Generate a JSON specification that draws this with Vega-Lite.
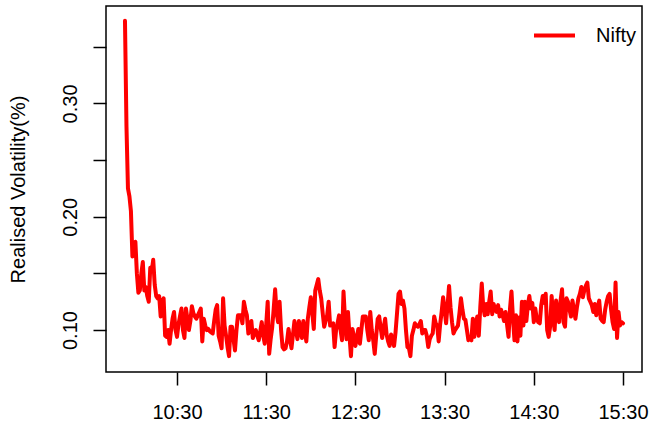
{
 "$schema": "https://vega.github.io/schema/vega-lite/v6.json",
 "width": 536, "height": 366,
 "autosize": {"type": "none"},
 "padding": {"left": 106, "top": 6, "right": 11, "bottom": 49},
 "background": "white",
 "config": {"view": {"stroke": "black", "strokeWidth": 1.5}, "font": "Liberation Sans"},
 "data": {"format": {"parse": {"t": "date:'%H:%M'"}}, "values": [
{"t":"09:55","v":0.373},{"t":"09:56","v":0.28},{"t":"09:57","v":0.225},{"t":"09:58","v":0.218},{"t":"09:59","v":0.205},
{"t":"10:00","v":0.165},{"t":"10:01","v":0.172},{"t":"10:02","v":0.178},{"t":"10:03","v":0.150},{"t":"10:04","v":0.133},{"t":"10:05","v":0.135},{"t":"10:06","v":0.150},{"t":"10:07","v":0.160},{"t":"10:08","v":0.135},{"t":"10:09","v":0.138},
{"t":"10:10","v":0.130},{"t":"10:11","v":0.125},{"t":"10:12","v":0.155},{"t":"10:13","v":0.152},{"t":"10:14","v":0.162},{"t":"10:15","v":0.140},{"t":"10:16","v":0.130},{"t":"10:17","v":0.128},{"t":"10:18","v":0.130},{"t":"10:19","v":0.112},
{"t":"10:20","v":0.125},{"t":"10:21","v":0.128},{"t":"10:22","v":0.095},{"t":"10:23","v":0.094},{"t":"10:24","v":0.100},{"t":"10:25","v":0.088},{"t":"10:26","v":0.100},{"t":"10:27","v":0.110},{"t":"10:28","v":0.116},{"t":"10:29","v":0.100},
{"t":"10:30","v":0.094},{"t":"10:31","v":0.105},{"t":"10:32","v":0.112},{"t":"10:33","v":0.119},{"t":"10:34","v":0.100},{"t":"10:35","v":0.093},{"t":"10:36","v":0.119},{"t":"10:37","v":0.110},{"t":"10:38","v":0.100},{"t":"10:39","v":0.108},
{"t":"10:40","v":0.121},{"t":"10:41","v":0.115},{"t":"10:42","v":0.112},{"t":"10:43","v":0.110},{"t":"10:44","v":0.113},{"t":"10:45","v":0.116},{"t":"10:46","v":0.119},{"t":"10:47","v":0.090},{"t":"10:48","v":0.110},{"t":"10:49","v":0.104},
{"t":"10:50","v":0.100},{"t":"10:51","v":0.101},{"t":"10:52","v":0.099},{"t":"10:53","v":0.098},{"t":"10:54","v":0.097},{"t":"10:55","v":0.108},{"t":"10:56","v":0.118},{"t":"10:57","v":0.122},{"t":"10:58","v":0.095},{"t":"10:59","v":0.090},
{"t":"11:00","v":0.084},{"t":"11:01","v":0.128},{"t":"11:02","v":0.104},{"t":"11:03","v":0.095},{"t":"11:04","v":0.085},{"t":"11:05","v":0.077},{"t":"11:06","v":0.103},{"t":"11:07","v":0.103},{"t":"11:08","v":0.092},{"t":"11:09","v":0.082},
{"t":"11:10","v":0.100},{"t":"11:11","v":0.113},{"t":"11:12","v":0.113},{"t":"11:13","v":0.113},{"t":"11:14","v":0.106},{"t":"11:15","v":0.125},{"t":"11:16","v":0.118},{"t":"11:17","v":0.113},{"t":"11:18","v":0.097},{"t":"11:19","v":0.103},
{"t":"11:20","v":0.108},{"t":"11:21","v":0.093},{"t":"11:22","v":0.097},{"t":"11:23","v":0.100},{"t":"11:24","v":0.095},{"t":"11:25","v":0.091},{"t":"11:26","v":0.099},{"t":"11:27","v":0.107},{"t":"11:28","v":0.095},{"t":"11:29","v":0.088},
{"t":"11:30","v":0.105},{"t":"11:31","v":0.125},{"t":"11:32","v":0.079},{"t":"11:33","v":0.092},{"t":"11:34","v":0.102},{"t":"11:35","v":0.118},{"t":"11:36","v":0.136},{"t":"11:37","v":0.115},{"t":"11:38","v":0.107},{"t":"11:39","v":0.125},
{"t":"11:40","v":0.100},{"t":"11:41","v":0.085},{"t":"11:42","v":0.083},{"t":"11:43","v":0.084},{"t":"11:44","v":0.090},{"t":"11:45","v":0.101},{"t":"11:46","v":0.092},{"t":"11:47","v":0.084},{"t":"11:48","v":0.096},{"t":"11:49","v":0.108},
{"t":"11:50","v":0.100},{"t":"11:51","v":0.092},{"t":"11:52","v":0.108},{"t":"11:53","v":0.100},{"t":"11:54","v":0.093},{"t":"11:55","v":0.108},{"t":"11:56","v":0.099},{"t":"11:57","v":0.090},{"t":"11:58","v":0.110},{"t":"11:59","v":0.120},
{"t":"12:00","v":0.129},{"t":"12:01","v":0.115},{"t":"12:02","v":0.101},{"t":"12:03","v":0.135},{"t":"12:04","v":0.140},{"t":"12:05","v":0.145},{"t":"12:06","v":0.135},{"t":"12:07","v":0.128},{"t":"12:08","v":0.115},{"t":"12:09","v":0.103},
{"t":"12:10","v":0.108},{"t":"12:11","v":0.113},{"t":"12:12","v":0.125},{"t":"12:13","v":0.104},{"t":"12:14","v":0.105},{"t":"12:15","v":0.106},{"t":"12:16","v":0.085},{"t":"12:17","v":0.100},{"t":"12:18","v":0.106},{"t":"12:19","v":0.113},
{"t":"12:20","v":0.100},{"t":"12:21","v":0.091},{"t":"12:22","v":0.134},{"t":"12:23","v":0.110},{"t":"12:24","v":0.092},{"t":"12:25","v":0.116},{"t":"12:26","v":0.095},{"t":"12:27","v":0.077},{"t":"12:28","v":0.101},{"t":"12:29","v":0.094},
{"t":"12:30","v":0.086},{"t":"12:31","v":0.094},{"t":"12:32","v":0.101},{"t":"12:33","v":0.088},{"t":"12:34","v":0.100},{"t":"12:35","v":0.112},{"t":"12:36","v":0.112},{"t":"12:37","v":0.112},{"t":"12:38","v":0.100},{"t":"12:39","v":0.091},
{"t":"12:40","v":0.116},{"t":"12:41","v":0.100},{"t":"12:42","v":0.091},{"t":"12:43","v":0.079},{"t":"12:44","v":0.095},{"t":"12:45","v":0.110},{"t":"12:46","v":0.112},{"t":"12:47","v":0.102},{"t":"12:48","v":0.093},{"t":"12:49","v":0.102},
{"t":"12:50","v":0.110},{"t":"12:51","v":0.096},{"t":"12:52","v":0.090},{"t":"12:53","v":0.086},{"t":"12:54","v":0.096},{"t":"12:55","v":0.091},{"t":"12:56","v":0.086},{"t":"12:57","v":0.098},{"t":"12:58","v":0.115},{"t":"12:59","v":0.132},
{"t":"13:00","v":0.134},{"t":"13:01","v":0.123},{"t":"13:02","v":0.126},{"t":"13:03","v":0.119},{"t":"13:04","v":0.100},{"t":"13:05","v":0.085},{"t":"13:06","v":0.084},{"t":"13:07","v":0.077},{"t":"13:08","v":0.095},{"t":"13:09","v":0.100},
{"t":"13:10","v":0.106},{"t":"13:11","v":0.104},{"t":"13:12","v":0.103},{"t":"13:13","v":0.105},{"t":"13:14","v":0.108},{"t":"13:15","v":0.097},{"t":"13:16","v":0.100},{"t":"13:17","v":0.100},{"t":"13:18","v":0.095},{"t":"13:19","v":0.085},
{"t":"13:20","v":0.092},{"t":"13:21","v":0.095},{"t":"13:22","v":0.097},{"t":"13:23","v":0.112},{"t":"13:24","v":0.106},{"t":"13:25","v":0.104},{"t":"13:26","v":0.090},{"t":"13:27","v":0.105},{"t":"13:28","v":0.116},{"t":"13:29","v":0.129},
{"t":"13:30","v":0.118},{"t":"13:31","v":0.106},{"t":"13:32","v":0.122},{"t":"13:33","v":0.139},{"t":"13:34","v":0.120},{"t":"13:35","v":0.107},{"t":"13:36","v":0.097},{"t":"13:37","v":0.100},{"t":"13:38","v":0.102},{"t":"13:39","v":0.104},
{"t":"13:40","v":0.115},{"t":"13:41","v":0.128},{"t":"13:42","v":0.118},{"t":"13:43","v":0.110},{"t":"13:44","v":0.109},{"t":"13:45","v":0.100},{"t":"13:46","v":0.091},{"t":"13:47","v":0.093},{"t":"13:48","v":0.091},{"t":"13:49","v":0.110},
{"t":"13:50","v":0.094},{"t":"13:51","v":0.105},{"t":"13:52","v":0.112},{"t":"13:53","v":0.095},{"t":"13:54","v":0.120},{"t":"13:55","v":0.141},{"t":"13:56","v":0.120},{"t":"13:57","v":0.113},{"t":"13:58","v":0.123},{"t":"13:59","v":0.114},
{"t":"14:00","v":0.125},{"t":"14:01","v":0.134},{"t":"14:02","v":0.114},{"t":"14:03","v":0.123},{"t":"14:04","v":0.118},{"t":"14:05","v":0.116},{"t":"14:06","v":0.122},{"t":"14:07","v":0.112},{"t":"14:08","v":0.118},{"t":"14:09","v":0.113},
{"t":"14:10","v":0.108},{"t":"14:11","v":0.116},{"t":"14:12","v":0.105},{"t":"14:13","v":0.094},{"t":"14:14","v":0.119},{"t":"14:15","v":0.134},{"t":"14:16","v":0.110},{"t":"14:17","v":0.091},{"t":"14:18","v":0.113},{"t":"14:19","v":0.090},
{"t":"14:20","v":0.111},{"t":"14:21","v":0.095},{"t":"14:22","v":0.125},{"t":"14:23","v":0.104},{"t":"14:24","v":0.125},{"t":"14:25","v":0.108},{"t":"14:26","v":0.122},{"t":"14:27","v":0.130},{"t":"14:28","v":0.119},{"t":"14:29","v":0.124},
{"t":"14:30","v":0.107},{"t":"14:31","v":0.119},{"t":"14:32","v":0.110},{"t":"14:33","v":0.107},{"t":"14:34","v":0.106},{"t":"14:35","v":0.122},{"t":"14:36","v":0.130},{"t":"14:37","v":0.124},{"t":"14:38","v":0.132},{"t":"14:39","v":0.100},
{"t":"14:40","v":0.094},{"t":"14:41","v":0.103},{"t":"14:42","v":0.130},{"t":"14:43","v":0.112},{"t":"14:44","v":0.100},{"t":"14:45","v":0.126},{"t":"14:46","v":0.115},{"t":"14:47","v":0.107},{"t":"14:48","v":0.126},{"t":"14:49","v":0.136},
{"t":"14:50","v":0.107},{"t":"14:51","v":0.103},{"t":"14:52","v":0.128},{"t":"14:53","v":0.125},{"t":"14:54","v":0.118},{"t":"14:55","v":0.112},{"t":"14:56","v":0.126},{"t":"14:57","v":0.118},{"t":"14:58","v":0.110},{"t":"14:59","v":0.120},
{"t":"15:00","v":0.128},{"t":"15:01","v":0.132},{"t":"15:02","v":0.138},{"t":"15:03","v":0.129},{"t":"15:04","v":0.135},{"t":"15:05","v":0.139},{"t":"15:06","v":0.142},{"t":"15:07","v":0.128},{"t":"15:08","v":0.125},{"t":"15:09","v":0.122},
{"t":"15:10","v":0.116},{"t":"15:11","v":0.123},{"t":"15:12","v":0.113},{"t":"15:13","v":0.120},{"t":"15:14","v":0.126},{"t":"15:15","v":0.110},{"t":"15:16","v":0.108},{"t":"15:17","v":0.107},{"t":"15:18","v":0.118},{"t":"15:19","v":0.125},
{"t":"15:20","v":0.130},{"t":"15:21","v":0.132},{"t":"15:22","v":0.118},{"t":"15:23","v":0.107},{"t":"15:24","v":0.101},{"t":"15:25","v":0.142},{"t":"15:26","v":0.093},{"t":"15:27","v":0.116},{"t":"15:28","v":0.104},{"t":"15:29","v":0.107},
{"t":"15:30","v":0.106}
 ]},
 "mark": {"type": "line", "strokeWidth": 4, "strokeJoin": "round", "strokeCap": "round"},
 "encoding": {
  "x": {"field": "t", "type": "temporal",
   "scale": {"domain": [{"year":1900,"month":1,"date":1,"hours":9,"minutes":42,"seconds":14},{"year":1900,"month":1,"date":1,"hours":15,"minutes":42,"seconds":47}]},
   "axis": {"title": null, "format": "%H:%M",
    "values": [{"year":1900,"month":1,"date":1,"hours":10,"minutes":30},{"year":1900,"month":1,"date":1,"hours":11,"minutes":30},{"year":1900,"month":1,"date":1,"hours":12,"minutes":30},{"year":1900,"month":1,"date":1,"hours":13,"minutes":30},{"year":1900,"month":1,"date":1,"hours":14,"minutes":30},{"year":1900,"month":1,"date":1,"hours":15,"minutes":30}],
    "domain": false, "grid": false, "tickColor": "black", "tickWidth": 1.5, "tickSize": 13,
    "labelFont": "Liberation Sans", "labelFontSize": 20, "labelColor": "black", "labelBaseline": "alphabetic", "labelPadding": 33, "labelOverlap": false, "labelFlush": false}},
  "y": {"field": "v", "type": "quantitative",
   "scale": {"domain": [0.063, 0.386], "nice": false, "zero": false},
   "axis": {"title": "Realised Volatility(%)", "values": [0.1, 0.15, 0.2, 0.25, 0.3, 0.35],
    "labelExpr": "round(datum.value*100)%10==0 ? format(datum.value,'.2f') : ''",
    "domain": false, "grid": false, "tickColor": "black", "tickWidth": 1.5, "tickSize": 13,
    "labelFont": "Liberation Sans", "labelFontSize": 20, "labelColor": "black", "labelAngle": 270, "labelAlign": "center", "labelBaseline": "alphabetic", "labelPadding": 17, "labelOverlap": false,
    "titleFont": "Liberation Sans", "titleFontSize": 20, "titleFontWeight": "normal", "titleColor": "black", "titleAngle": 270, "titleAlign": "center", "titleBaseline": "alphabetic", "titleX": -82, "titleY": 183}},
  "color": {"datum": "Nifty", "scale": {"range": ["#FF0000"]},
   "legend": {"orient": "none", "legendX": 426, "legendY": 7, "title": null, "symbolType": "stroke", "symbolSize": 1681, "symbolStrokeWidth": 4, "padding": 0,
    "labelFont": "Liberation Sans", "labelFontSize": 20, "labelColor": "black", "labelOffset": 19}}
 }
}
